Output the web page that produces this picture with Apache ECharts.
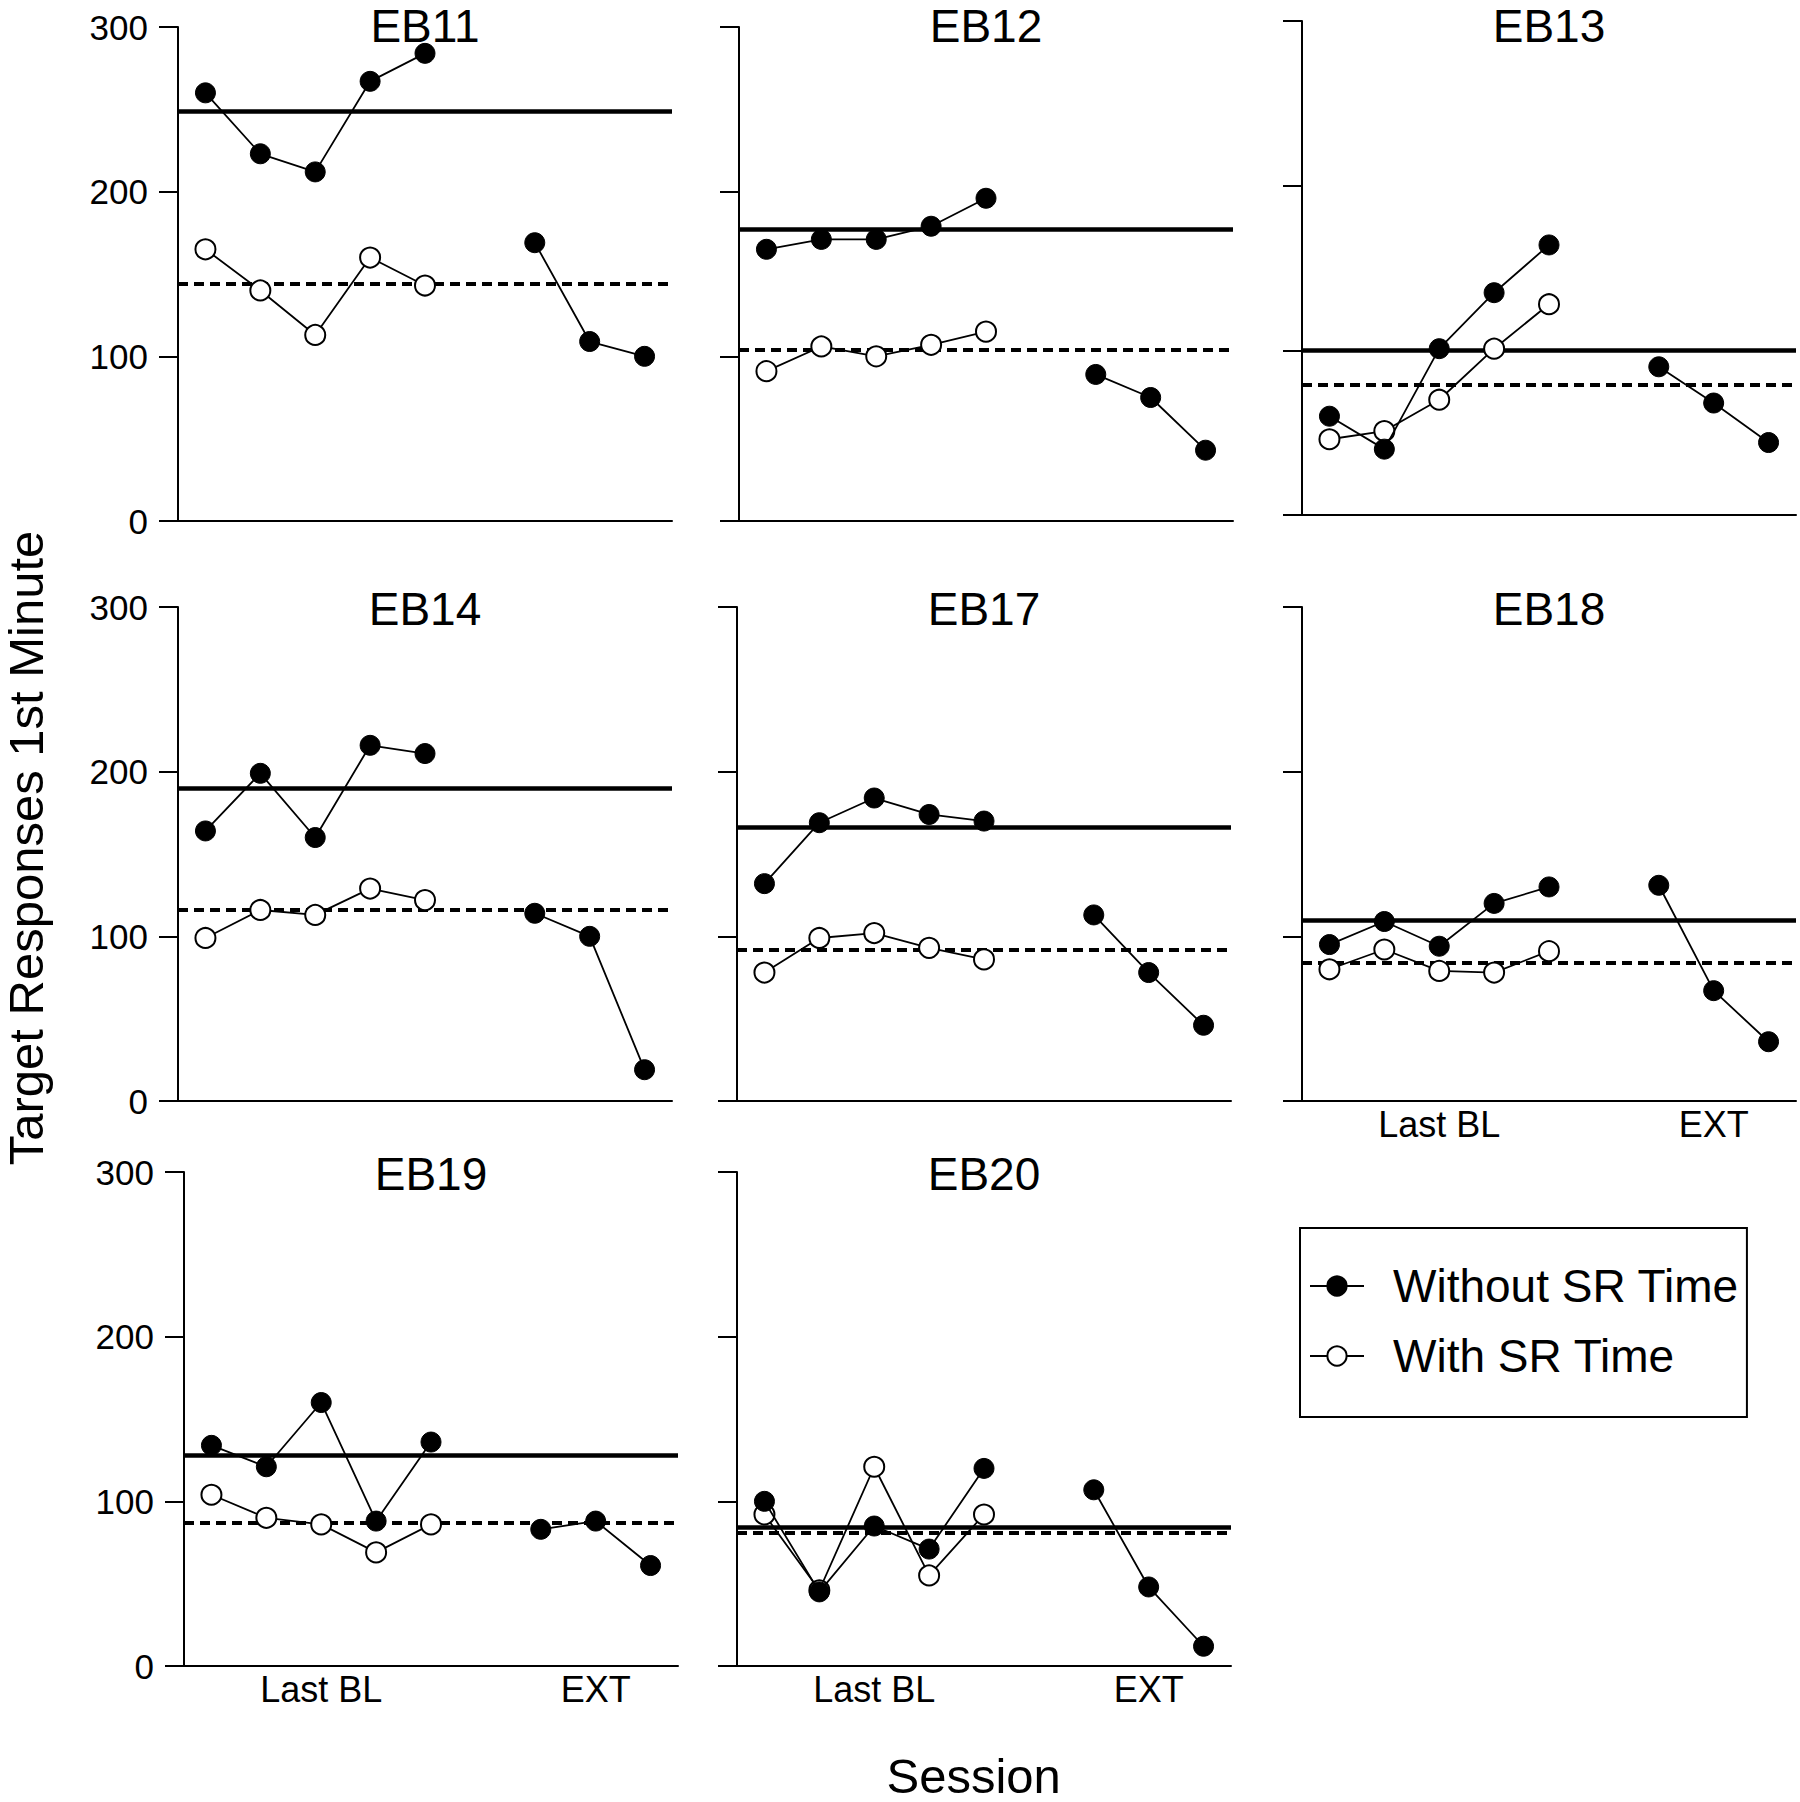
<!DOCTYPE html>
<html><head><meta charset="utf-8">
<script src="https://cdn.jsdelivr.net/npm/echarts@6/dist/echarts.min.js"></script>
<style>html,body{margin:0;padding:0;background:#fff}#c{width:1800px;height:1802px}</style>
</head><body><div id="c"></div>
<script>
// ---- data ----
const panelNames = ['EB11','EB12','EB13','EB14','EB17','EB18','EB19','EB20'];
const xCategories = ['', '', 'Last BL', '', '', '', '', 'EXT', ''];
const yTickValues = [0, 100, 200, 300];
const legendNames = ['Without SR Time', 'With SR Time'];

const eb11Without = [260, 223, 212, 267, 284, null, 169, 109, 100];
const eb11With    = [165, 140, 113, 160, 143];
const eb12Without = [165, 171, 171, 179, 196, null, 89, 75, 43];
const eb12With    = [91, 106, 100, 107, 115];
const eb13Without = [60, 40, 101, 135, 164, null, 90, 68, 44];
const eb13With    = [46, 51, 70, 101, 128];
const eb14Without = [164, 199, 160, 216, 211, null, 114, 100, 19];
const eb14With    = [99, 116, 113, 129, 122];
const eb17Without = [132, 169, 184, 174, 170, null, 113, 78, 46];
const eb17With    = [78, 99, 102, 93, 86];
const eb18Without = [95, 109, 94, 120, 130, null, 131, 67, 36];
const eb18With    = [80, 92, 79, 78, 91];
const eb19Without = [134, 121, 160, 88, 136, null, 83, 88, 61];
const eb19With    = [104, 90, 86, 69, 86];
const eb20Without = [100, 45, 85, 71, 120, null, 107, 48, 12];
const eb20With    = [92, 46, 121, 55, 92];

const meanWithout = [249, 177, 100, 190, 166, 110, 128, 84];
const meanWith    = [144, 104, 79, 116, 92, 84, 87, 81];

const withoutSets = [eb11Without, eb12Without, eb13Without, eb14Without, eb17Without, eb18Without, eb19Without, eb20Without];
const withSets    = [eb11With, eb12With, eb13With, eb14With, eb17With, eb18With, eb19With, eb20With];

// ---- layout ----
const FONT = '"Liberation Sans", Arial, Helvetica, sans-serif';
const layout = [[178,27],[739,27],[1302,21],[178,607],[737,607],[1302,607],[184,1172],[737,1172]];
const titleDy = [-1.5, -1.5, 5, 2, 2, 2, 2, 2];
const PW = 494, PH = 494;
const yLabelPanels = [0, 3, 6];
const xLabelPanels = [5, 6, 7];

const grids = [], xAxes = [], yAxes = [], series = [], graphics = [];
panelNames.forEach((name, i) => {
  const [l, t] = layout[i];
  grids.push({left: l, top: t, width: PW, height: PH});
  xAxes.push({
    type: 'category', gridIndex: i, data: xCategories, boundaryGap: true,
    axisLine: {show: true, lineStyle: {color: '#000', width: 2}},
    axisTick: {show: false},
    axisLabel: {show: xLabelPanels.includes(i), interval: 0, color: '#000', fontSize: 36, fontFamily: FONT, margin: 5},
    splitLine: {show: false}
  });
  yAxes.push({
    type: 'value', gridIndex: i, min: yTickValues[0], max: yTickValues[yTickValues.length-1], interval: 100,
    axisLine: {show: true, lineStyle: {color: '#000', width: 2}},
    axisTick: {show: true, length: 19, lineStyle: {color: '#000', width: 2}},
    axisLabel: {show: yLabelPanels.includes(i), color: '#000', fontSize: 35, fontFamily: FONT, margin: 30},
    splitLine: {show: false}
  });
  series.push({
    name: legendNames[1], type: 'line', xAxisIndex: i, yAxisIndex: i, data: withSets[i],
    symbol: 'circle', symbolSize: 20, z: 3, animation: false,
    itemStyle: {color: '#fff', borderColor: '#000', borderWidth: 2},
    lineStyle: {color: '#000', width: 1.8},
    emphasis: {disabled: true},
    markLine: {silent: true, symbol: ['none','none'], z: 1, animation: false, label: {show: false},
      lineStyle: {color: '#000', width: 4, type: [10, 6]}, emphasis: {disabled: true},
      data: [{yAxis: meanWith[i]}]}
  });
  series.push({
    name: legendNames[0], type: 'line', xAxisIndex: i, yAxisIndex: i, data: withoutSets[i],
    symbol: 'circle', symbolSize: 20, z: 4, animation: false,
    itemStyle: {color: '#000', borderColor: '#000', borderWidth: 1},
    lineStyle: {color: '#000', width: 1.8},
    emphasis: {disabled: true},
    markLine: {silent: true, symbol: ['none','none'], z: 1, animation: false, label: {show: false},
      lineStyle: {color: '#000', width: 4.5, type: 'solid'}, emphasis: {disabled: true},
      data: [{yAxis: meanWithout[i]}]}
  });
  graphics.push({type: 'text', x: l + PW/2, y: t + titleDy[i], silent: true,
    style: {text: name, fill: '#000', fontSize: 46, fontFamily: FONT, align: 'center', verticalAlign: 'middle'}});
});

graphics.push({type: 'text', x: 26, y: 848, rotation: Math.PI/2, silent: true,
  style: {text: 'Target Responses 1st Minute', fill: '#000', fontSize: 49, fontFamily: FONT, align: 'center', verticalAlign: 'middle'}});
graphics.push({type: 'text', x: 973.6, y: 1776, silent: true,
  style: {text: 'Session', fill: '#000', fontSize: 49, fontFamily: FONT, align: 'center', verticalAlign: 'middle'}});

const chart = echarts.init(document.getElementById('c'), null, {renderer: 'svg'});
chart.setOption({
  backgroundColor: '#fff',
  animation: false,
  grid: grids, xAxis: xAxes, yAxis: yAxes, series: series,
  graphic: graphics,
  legend: {
    show: true, orient: 'vertical', left: 1300, top: 1228,
    data: legendNames, selectedMode: false,
    itemWidth: 54, itemHeight: 24, itemGap: 20,
    padding: [33, 8, 36, 9],
    borderColor: '#000', borderWidth: 2,
    textStyle: {fontSize: 46, fontFamily: FONT, color: '#000', lineHeight: 50, padding: [0, 0, 0, 24]}
  }
});
</script></body></html>
